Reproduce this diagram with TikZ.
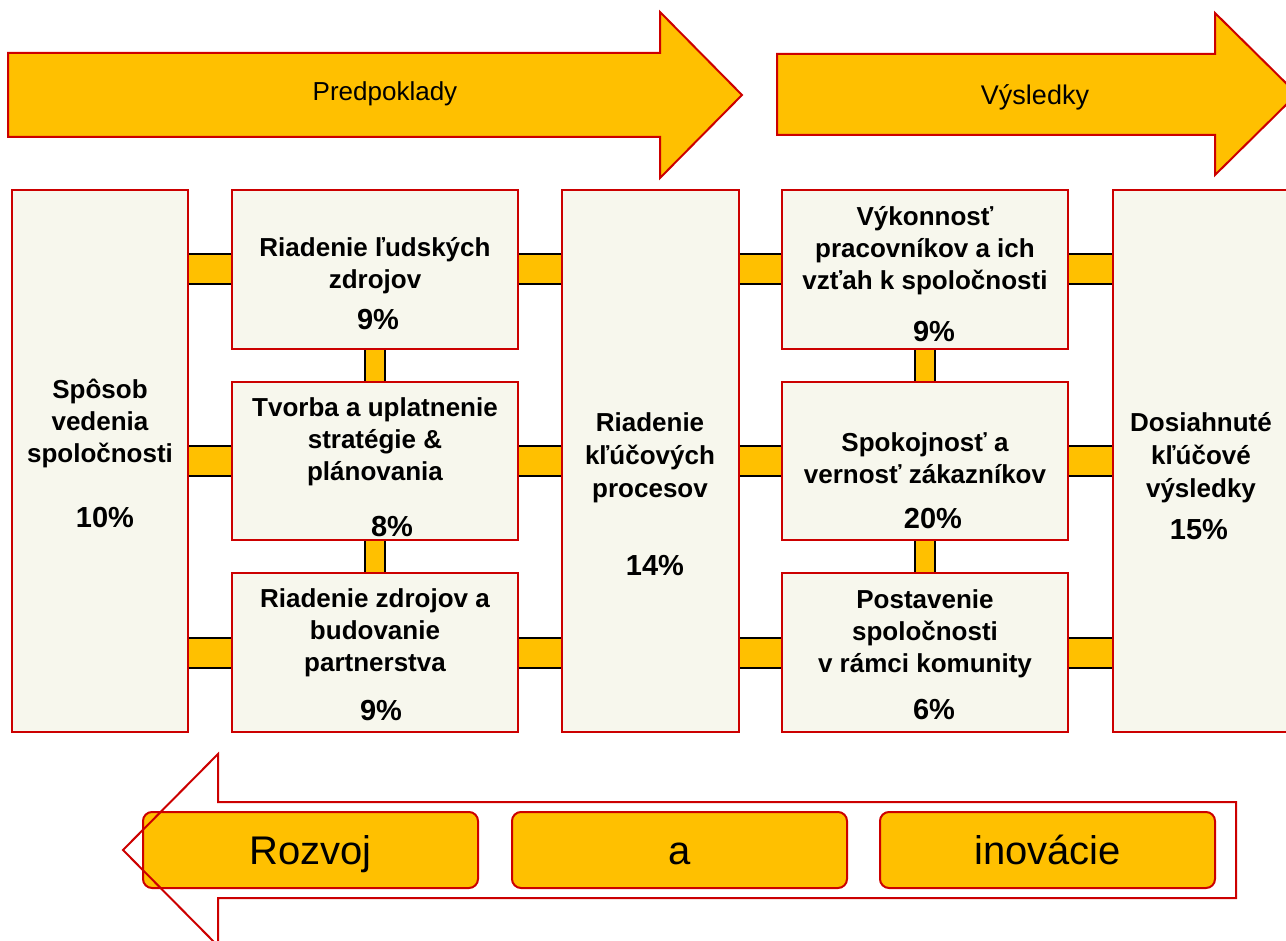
\documentclass[tikz,border=0pt]{standalone}
\usepackage{fontspec}
\setmainfont{Liberation Sans}
\usetikzlibrary{backgrounds}
\definecolor{barY}{HTML}{FFC000}
\definecolor{boxR}{HTML}{CC0000}
\definecolor{cream}{HTML}{F7F7ED}
\tikzset{
  box/.style={draw=boxR, line width=2.5pt, fill=cream, anchor=north west, inner sep=0pt, outer sep=0pt},
  lbl/.style={anchor=base, align=center, font=\fontsize{26}{32}\selectfont\bfseries, inner sep=0pt},
  pct/.style={anchor=base, inner sep=0pt, font=\fontsize{29}{32}\selectfont\bfseries},
  hbar/.style={draw=black, line width=2pt, double=barY, double distance=28pt},
  vbar/.style={draw=black, line width=2pt, double=barY, double distance=18pt},
  bigarrow/.style={fill=barY, draw=boxR, line width=2pt, line join=miter},
  arrowtext/.style={anchor=base, inner sep=0pt, font=\fontsize{26}{30}\selectfont},
  pill/.style={fill=barY, draw=boxR, line width=2pt, rounded corners=9pt, anchor=north west, inner sep=0pt, outer sep=0pt, minimum width=335pt, minimum height=76pt, text height=29pt, text depth=0pt, font=\fontsize{40}{48}\selectfont},
  outlinearrow/.style={draw=boxR, line width=2pt, line join=miter}
}
\begin{document}
\begin{tikzpicture}[x=1pt,y=-1pt]
\useasboundingbox (0,0) rectangle (1286,941);

% top arrows
\draw[bigarrow] (8,53) -- (660,53) -- (660,12) -- (742,95) -- (660,178) -- (660,137) -- (8,137) -- cycle;
\node[arrowtext] (pred) at (385,101) {Predpoklady};
\draw[bigarrow] (777,54) -- (1215,54) -- (1215,13) -- (1297,94) -- (1215,175) -- (1215,135) -- (777,135) -- cycle;
\node[arrowtext, font=\fontsize{27}{30}\selectfont] (vys) at (1035,105) {Výsledky};

% boxes
\node[box, minimum width=176pt, minimum height=542pt] (c1) at (12,190) {};
\node[box, minimum width=286pt, minimum height=159pt] (b21) at (232,190) {};
\node[box, minimum width=286pt, minimum height=158pt] (b22) at (232,382) {};
\node[box, minimum width=286pt, minimum height=159pt] (b23) at (232,573) {};
\node[box, minimum width=177pt, minimum height=542pt] (c3) at (562,190) {};
\node[box, minimum width=286pt, minimum height=159pt] (b41) at (782,190) {};
\node[box, minimum width=286pt, minimum height=158pt] (b42) at (782,382) {};
\node[box, minimum width=286pt, minimum height=159pt] (b43) at (782,573) {};
\node[box, minimum width=176pt, minimum height=542pt] (c5) at (1113,190) {};

% connectors
\begin{scope}[on background layer]
\foreach \b in {b21,b22,b23} {
  \draw[hbar] (c1.east |- \b.west) -- (\b.west);
  \draw[hbar] (\b.east) -- (c3.west |- \b.east);
}
\foreach \b in {b41,b42,b43} {
  \draw[hbar] (c3.east |- \b.west) -- (\b.west);
  \draw[hbar] (\b.east) -- (c5.west |- \b.east);
}
\draw[vbar] (b21.south) -- (b22.north);
\draw[vbar] (b22.south) -- (b23.north);
\draw[vbar] (b41.south) -- (b42.north);
\draw[vbar] (b42.south) -- (b43.north);
\end{scope}

% labels (anchor base = baseline of last line)
\node[lbl] (t1) at (100,462) {Spôsob\\vedenia\\spoločnosti};
\node[pct] (p1) at (105,527) {10\%};
\node[lbl] (t21) at (375,289) {Riadenie ľudských\\zdrojov};
\node[pct] (p21) at (378,330) {9\%};
\node[lbl] (t22) at (375,480) {Tvorba a uplatnenie\\stratégie \&\\plánovania};
\node[pct] (p22) at (392,536) {8\%};
\node[lbl] (t23) at (375,671) {Riadenie zdrojov a\\budovanie\\partnerstva};
\node[pct] (p23) at (381,720) {9\%};
\node[lbl, font=\fontsize{26}{33}\selectfont\bfseries] (t3) at (650,497) {Riadenie\\kľúčových\\procesov};
\node[pct] (p3) at (655,575) {14\%};
\node[lbl] (t41) at (925,290) {Výkonnosť\\pracovníkov a ich\\vzťah k spoločnosti};
\node[pct] (p41) at (934,342) {9\%};
\node[lbl] (t42) at (925,483) {Spokojnosť a\\vernosť zákazníkov};
\node[pct] (p42) at (933,528) {20\%};
\node[lbl] (t43) at (925,672) {Postavenie\\spoločnosti\\v rámci komunity};
\node[pct] (p43) at (934,719) {6\%};
\node[lbl, font=\fontsize{26}{33}\selectfont\bfseries] (t5) at (1201,497) {Dosiahnuté\\kľúčové\\výsledky};
\node[pct] (p5) at (1199,539) {15\%};

% bottom
\node[pill] (r1) at (143,812) {Rozvoj};
\node[pill] (r2) at (512,812) {a};
\node[pill] (r3) at (880,812) {inovácie};
\draw[outlinearrow] (1236,802) -- (218,802) -- (218,754) -- (123,850) -- (218,946) -- (218,898) -- (1236,898) -- cycle;
\end{tikzpicture}
\end{document}
